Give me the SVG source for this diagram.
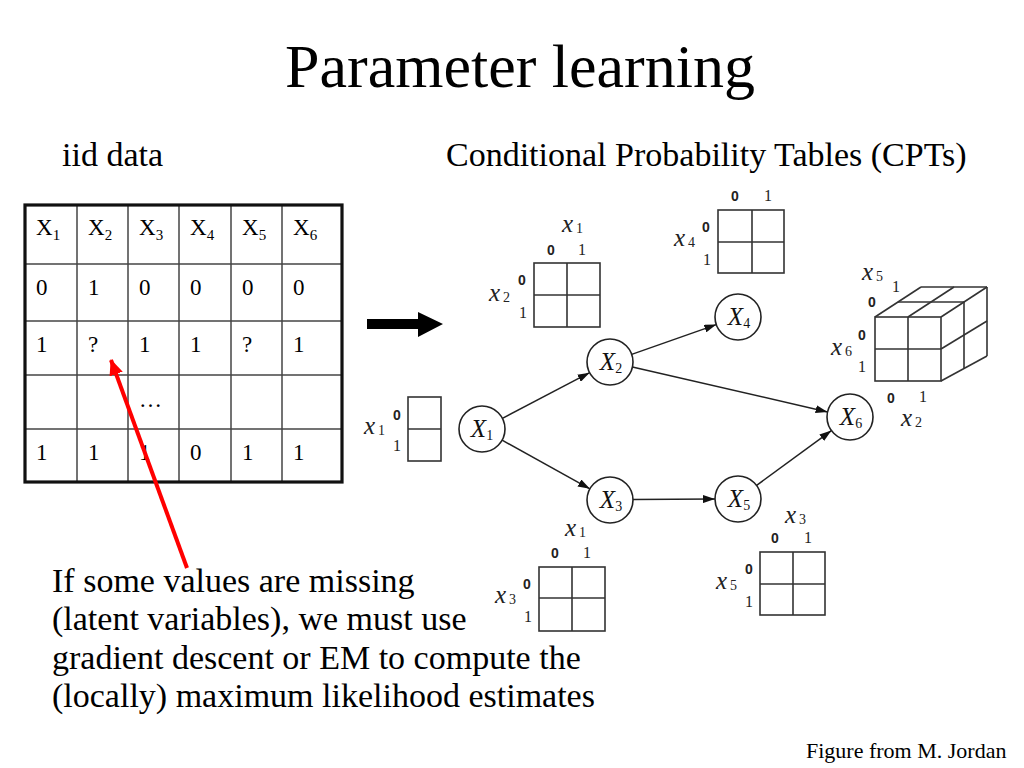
<svg xmlns="http://www.w3.org/2000/svg" width="1024" height="768" viewBox="0 0 1024 768">
<style>
  .serif { font-family: "Liberation Serif", "Times New Roman", serif; fill: #000; }
  .title { font-size: 62px; }
  .head { font-size: 34px; }
  .cell { font-size: 23px; }
  .sub { font-size: 15px; }
  .node { fill: #fff; stroke: #222; stroke-width: 1.6; }
  .nlab { font-family: "Liberation Serif", "Times New Roman", serif; font-style: italic; font-size: 25px; fill: #111; }
  .nsub { font-style: normal; font-size: 14px; }
  .edge { fill: none; stroke: #222; stroke-width: 1.5; }
  .cpt { fill: none; stroke: #333; stroke-width: 1.6; }
  .var { font-family: "Liberation Serif", "Times New Roman", serif; font-style: italic; font-size: 25px; fill: #222; }
  .vsub { font-style: normal; font-size: 14px; }
  .z { font-family: "Liberation Sans", Arial, sans-serif; font-size: 14px; font-weight: bold; fill: #222; text-anchor: middle; }
  .o { font-family: "Liberation Serif", "Times New Roman", serif; font-size: 16px; fill: #222; text-anchor: middle; }
  .grid { stroke: #444; stroke-width: 1.5; }
</style>
<defs>
  <marker id="ah" viewBox="0 0 12 8" refX="12" refY="4" markerWidth="12" markerHeight="8" markerUnits="userSpaceOnUse" orient="auto">
    <path d="M0,0 L12,4 L0,8 Z" fill="#111"/>
  </marker>
  <marker id="red" viewBox="0 0 16 14" refX="15" refY="7" markerWidth="16" markerHeight="14" markerUnits="userSpaceOnUse" orient="auto">
    <path d="M0,0 L16,7 L0,14 Z" fill="#f00"/>
  </marker>
</defs>
<rect width="1024" height="768" fill="#fff"/>

<text class="serif title" x="520" y="87" text-anchor="middle">Parameter learning</text>
<text class="serif head" x="62" y="166">iid data</text>
<text class="serif head" x="446" y="166">Conditional Probability Tables (CPTs)</text>

<g id="data-table">
  <g class="grid">
    <line x1="77" y1="205" x2="77" y2="482"/>
    <line x1="128" y1="205" x2="128" y2="482"/>
    <line x1="179" y1="205" x2="179" y2="482"/>
    <line x1="231" y1="205" x2="231" y2="482"/>
    <line x1="282" y1="205" x2="282" y2="482"/>
    <line x1="25" y1="264" x2="342" y2="264"/>
    <line x1="25" y1="321" x2="342" y2="321"/>
    <line x1="25" y1="375" x2="342" y2="375"/>
    <line x1="25" y1="429" x2="342" y2="429"/>
  </g>
  <rect x="25" y="205" width="317" height="277" fill="none" stroke="#111" stroke-width="3.2"/>
  <g class="serif cell">
    <text x="36" y="235">X<tspan class="sub" dy="5">1</tspan></text>
    <text x="88" y="235">X<tspan class="sub" dy="5">2</tspan></text>
    <text x="139" y="235">X<tspan class="sub" dy="5">3</tspan></text>
    <text x="190" y="235">X<tspan class="sub" dy="5">4</tspan></text>
    <text x="242" y="235">X<tspan class="sub" dy="5">5</tspan></text>
    <text x="293" y="235">X<tspan class="sub" dy="5">6</tspan></text>
    <text x="36" y="295">0</text><text x="88" y="295">1</text><text x="139" y="295">0</text><text x="190" y="295">0</text><text x="242" y="295">0</text><text x="293" y="295">0</text>
    <text x="36" y="352">1</text><text x="88" y="352">?</text><text x="139" y="352">1</text><text x="190" y="352">1</text><text x="242" y="352">?</text><text x="293" y="352">1</text>
    <text x="139" y="407">…</text>
    <text x="36" y="460">1</text><text x="88" y="460">1</text><text x="139" y="460">1</text><text x="190" y="460">0</text><text x="242" y="460">1</text><text x="293" y="460">1</text>
  </g>
</g>

<g id="big-arrow">
  <polygon points="367,319 418,319 418,312 443,324 418,337 418,329 367,329" fill="#000"/>
</g>

<g id="connectors">
  <line class="edge" x1="502.4" y1="418.3" x2="589.6" y2="372.7" marker-end="url(#ah)"/>
  <line class="edge" x1="502.1" y1="440.2" x2="589.9" y2="488.8" marker-end="url(#ah)"/>
  <line class="edge" x1="631.7" y1="354.4" x2="716.3" y2="324.6" marker-end="url(#ah)"/>
  <line class="edge" x1="632.4" y1="367.1" x2="827.6" y2="411.9" marker-end="url(#ah)"/>
  <line class="edge" x1="633" y1="499.5" x2="715" y2="499" marker-end="url(#ah)"/>
  <line class="edge" x1="756.6" y1="485.4" x2="831.4" y2="430.6" marker-end="url(#ah)"/>
  <line x1="187" y1="568" x2="111" y2="360" stroke="#f00" stroke-width="4" marker-end="url(#red)"/>
</g>

<g id="node-X1"><circle class="node" cx="482" cy="429" r="23"/><text class="nlab" x="482" y="437" text-anchor="middle">X<tspan class="nsub" dy="3">1</tspan></text></g>
<g id="node-X2"><circle class="node" cx="610" cy="362" r="23"/><text class="nlab" x="611" y="370" text-anchor="middle">X<tspan class="nsub" dy="3">2</tspan></text></g>
<g id="node-X3"><circle class="node" cx="610" cy="500" r="23"/><text class="nlab" x="611" y="508" text-anchor="middle">X<tspan class="nsub" dy="3">3</tspan></text></g>
<g id="node-X4"><circle class="node" cx="738" cy="317" r="23"/><text class="nlab" x="739" y="325" text-anchor="middle">X<tspan class="nsub" dy="3">4</tspan></text></g>
<g id="node-X5"><circle class="node" cx="738" cy="499" r="23"/><text class="nlab" x="739" y="507" text-anchor="middle">X<tspan class="nsub" dy="3">5</tspan></text></g>
<g id="node-X6"><circle class="node" cx="850" cy="417" r="23"/><text class="nlab" x="851" y="425" text-anchor="middle">X<tspan class="nsub" dy="3">6</tspan></text></g>

<g id="cpt-x1">
  <rect class="cpt" x="408" y="397" width="33" height="64"/>
  <line class="cpt" x1="408" y1="429" x2="441" y2="429"/>
  <text class="var" x="364" y="434">x<tspan class="vsub" dx="3" dy="1">1</tspan></text>
  <text class="z" x="397" y="420">0</text>
  <text class="o" x="397" y="451">1</text>
</g>

<g id="cpt-x2">
  <rect class="cpt" x="534" y="263" width="66" height="64"/>
  <line class="cpt" x1="567" y1="263" x2="567" y2="327"/>
  <line class="cpt" x1="534" y1="295" x2="600" y2="295"/>
  <text class="var" x="562" y="232">x<tspan class="vsub" dx="3" dy="1">1</tspan></text>
  <text class="z" x="551" y="255">0</text>
  <text class="o" x="582" y="255">1</text>
  <text class="var" x="489" y="301">x<tspan class="vsub" dx="3" dy="1">2</tspan></text>
  <text class="z" x="522" y="285">0</text>
  <text class="o" x="523" y="318">1</text>
</g>

<g id="cpt-x4">
  <rect class="cpt" x="718" y="210" width="66" height="63"/>
  <line class="cpt" x1="752" y1="210" x2="752" y2="273"/>
  <line class="cpt" x1="718" y1="242" x2="784" y2="242"/>
  <text class="z" x="735" y="201">0</text>
  <text class="o" x="768" y="201">1</text>
  <text class="var" x="674" y="246">x<tspan class="vsub" dx="3" dy="1">4</tspan></text>
  <text class="z" x="706" y="232">0</text>
  <text class="o" x="707" y="265">1</text>
</g>

<g id="cpt-x3">
  <rect class="cpt" x="539" y="567" width="66" height="64"/>
  <line class="cpt" x1="572" y1="567" x2="572" y2="631"/>
  <line class="cpt" x1="539" y1="598" x2="605" y2="598"/>
  <text class="var" x="565" y="536">x<tspan class="vsub" dx="3" dy="1">1</tspan></text>
  <text class="z" x="555" y="558">0</text>
  <text class="o" x="587" y="558">1</text>
  <text class="var" x="495" y="603">x<tspan class="vsub" dx="3" dy="1">3</tspan></text>
  <text class="z" x="527" y="589">0</text>
  <text class="o" x="528" y="622">1</text>
</g>

<g id="cpt-x5">
  <rect class="cpt" x="760" y="552" width="65" height="63"/>
  <line class="cpt" x1="793" y1="552" x2="793" y2="615"/>
  <line class="cpt" x1="760" y1="584" x2="825" y2="584"/>
  <text class="var" x="785" y="523">x<tspan class="vsub" dx="3" dy="1">3</tspan></text>
  <text class="z" x="775" y="543">0</text>
  <text class="o" x="808" y="543">1</text>
  <text class="var" x="716" y="589">x<tspan class="vsub" dx="3" dy="1">5</tspan></text>
  <text class="z" x="749" y="574">0</text>
  <text class="o" x="749" y="607">1</text>
</g>

<g id="cpt-x6">
  <g class="cpt">
    <rect x="875" y="317" width="66" height="64"/>
    <line x1="908" y1="317" x2="908" y2="381"/>
    <line x1="875" y1="349" x2="941" y2="349"/>
    <line x1="875" y1="317" x2="921" y2="287"/>
    <line x1="941" y1="317" x2="987" y2="287"/>
    <line x1="921" y1="287" x2="987" y2="287"/>
    <line x1="898" y1="302" x2="964" y2="302"/>
    <line x1="908" y1="317" x2="954" y2="287"/>
    <line x1="987" y1="287" x2="987" y2="356"/>
    <line x1="941" y1="381" x2="987" y2="356"/>
    <line x1="964" y1="302" x2="964" y2="368"/>
    <line x1="941" y1="349" x2="987" y2="321"/>
  </g>
  <text class="var" x="862" y="280">x<tspan class="vsub" dx="3" dy="1">5</tspan></text>
  <text class="o" x="896" y="292">1</text>
  <text class="z" x="872" y="307">0</text>
  <text class="z" x="862" y="340">0</text>
  <text class="var" x="831" y="355">x<tspan class="vsub" dx="3" dy="1">6</tspan></text>
  <text class="o" x="862" y="372">1</text>
  <text class="z" x="891" y="403">0</text>
  <text class="o" x="923" y="402">1</text>
  <text class="var" x="901" y="426">x<tspan class="vsub" dx="3" dy="1">2</tspan></text>
</g>

<g id="note">
  <text class="serif head" x="52" y="592">If some values are missing</text>
  <text class="serif head" x="52" y="630">(latent variables), we must use</text>
  <text class="serif head" x="52" y="669">gradient descent or EM to compute the</text>
  <text class="serif head" x="52" y="707">(locally) maximum likelihood estimates</text>
</g>

<text class="serif" x="806" y="758" font-size="22">Figure from M. Jordan</text>
</svg>
